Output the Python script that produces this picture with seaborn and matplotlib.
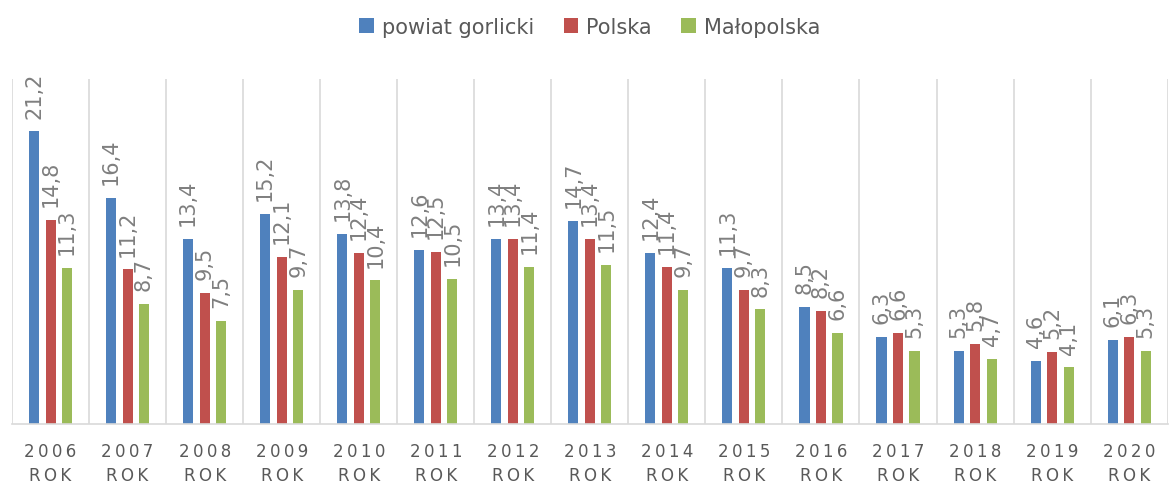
import matplotlib
matplotlib.use("Agg")
import matplotlib.pyplot as plt
import seaborn as sns
import pandas as pd

years = ["2006", "2007", "2008", "2009", "2010", "2011", "2012", "2013",
         "2014", "2015", "2016", "2017", "2018", "2019", "2020"]
series_names = ["powiat gorlicki", "Polska", "Małopolska"]
powiat = [21.2, 16.4, 13.4, 15.2, 13.8, 12.6, 13.4, 14.7, 12.4, 11.3, 8.5, 6.3, 5.3, 4.6, 6.1]
polska = [14.8, 11.2, 9.5, 12.1, 12.4, 12.5, 13.4, 13.4, 11.4, 9.7, 8.2, 6.6, 5.8, 5.2, 6.3]
malopolska = [11.3, 8.7, 7.5, 9.7, 10.4, 10.5, 11.4, 11.5, 9.7, 8.3, 6.6, 5.3, 4.7, 4.1, 5.3]
colors = ["#4F81BD", "#C0504D", "#9BBB59"]

sns.set_theme(style="white")
plt.rcParams['font.family'] = ['DejaVu Sans']

rows = []
for name, vals in zip(series_names, [powiat, polska, malopolska]):
    for y, v in zip(years, vals):
        rows.append({"year": y, "series": name, "value": v})
df = pd.DataFrame(rows)

fig = plt.figure(figsize=(11.7, 4.85), dpi=100)
ax = fig.add_axes([0.0103, 0.1237, 0.9877, 0.7113])

sns.barplot(data=df, x="year", y="value", hue="series", palette=colors,
            order=years, hue_order=series_names, width=0.643, gap=0.39,
            ax=ax, saturation=1, edgecolor="none")

for cont, vals in zip(ax.containers, [powiat, polska, malopolska]):
    labels = [f"{v:.1f}".replace(".", ",") for v in vals]
    ax.bar_label(cont, labels=labels, rotation=90, padding=10,
                 fontsize=15, color="#7F7F7F")

ax.set_ylim(0, 25)
ax.set_xlim(-0.5, len(years) - 0.5)
ax.set_yticks([])
ax.set_xlabel("")
ax.set_ylabel("")
for b in [i - 0.5 for i in range(len(years) + 1)]:
    ax.axvline(b, color="#D9D9D9", lw=1.2, zorder=0)
for s in ["top", "left", "right"]:
    ax.spines[s].set_visible(False)
ax.spines["bottom"].set_color("#D9D9D9")
ax.spines["bottom"].set_linewidth(1.2)

sp = "\u2009"
ax.set_xticks(range(len(years)))
ax.set_xticklabels([sp.join(list(y)) + "\n" + sp.join(list("ROK")) for y in years],
                   fontsize=12, color="#595959", linespacing=1.4)
ax.tick_params(axis="x", length=0, pad=13)

handles, labs = ax.get_legend_handles_labels()
ax.legend(handles, labs, loc="upper center", bbox_to_anchor=(0.5, 1.235),
          ncol=3, frameon=False, fontsize=15, handlelength=0.7, handleheight=0.7,
          handletextpad=0.4, columnspacing=1.4, labelcolor="#595959")

fig.savefig("out.png", dpi=100)
